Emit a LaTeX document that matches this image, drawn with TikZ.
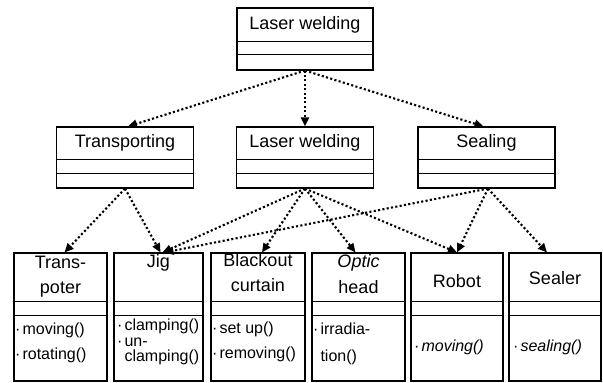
\documentclass[tikz,border=0pt]{standalone}
\usepackage{fontspec}
\setmainfont{Liberation Sans}
\usetikzlibrary{arrows.meta}
\tikzset{
  cls box/.style={draw,line width=1.1pt,inner sep=0pt,fill=white},
  cls line/.style={line width=1.1pt},
  cls title/.style={inner sep=0pt,anchor=base,font=\fontsize{18}{22}\selectfont},
  cls op/.style={inner sep=0pt,anchor=base west,font=\fontsize{16}{19}\selectfont},
  dep/.style={line width=2.1pt,dash pattern=on 2.1pt off 2.3pt,-{Triangle[length=9pt,width=8pt]}}
}
\newcommand{\opdot}{·\kern2pt}

\begin{document}
\begin{tikzpicture}[x=1pt,y=-1pt]
  \useasboundingbox (0,0) rectangle (603,383);
  % upper two levels
  \node[cls box,minimum width=136pt,minimum height=62pt] (lw) at (305,39) {};
  \foreach \n/\x in {trsp/125,lwm/305,seal/486.5}
    \node[cls box,minimum width=137pt,minimum height=61pt] (\n) at (\x,157.5) {};
  \foreach \n/\a/\b in {lw/34/47,trsp/33/47,lwm/33/47,seal/33/47}{
    \draw[cls line] ([yshift=-\a pt]\n.north west) -- ([yshift=-\a pt]\n.north east);
    \draw[cls line] ([yshift=-\b pt]\n.north west) -- ([yshift=-\b pt]\n.north east);
  }
  \node[cls title] (lw-a) at (305,29) {Laser welding};
  \node[cls title] (trsp-a) at (125,147) {Transporting};
  \node[cls title] (lwm-a) at (305,147) {Laser welding};
  \node[cls title] (seal-a) at (486.5,147) {Sealing};

  % resources
  \foreach \n/\l/\r in {tp/14/107,jig/114/203,bc/211/305,oh/312/405,rb/411/503,sl/509/601}{
    \node[cls box,minimum width={(\r-\l)*1pt},minimum height=128pt] (\n) at ({(\l+\r)/2},317) {};
    \draw[cls line] ([yshift=-49pt]\n.north west) -- ([yshift=-49pt]\n.north east);
    \draw[cls line] ([yshift=-63pt]\n.north west) -- ([yshift=-63pt]\n.north east);
  }
  \node[cls title] (tp-a) at (60.5,268) {Trans-};
  \node[cls title] (tp-b) at (60.5,293) {poter};
  \node[cls title] (jig-a) at (158.5,267) {Jig};
  \node[cls title] (bc-a) at (258,266) {Blackout};
  \node[cls title] (bc-b) at (258,291) {curtain};
  \node[cls title] (oh-a) at (358.5,267) {\itshape Optic};
  \node[cls title] (oh-b) at (358.5,293) {head};
  \node[cls title] (rb-a) at (457,287) {Robot};
  \node[cls title] (sl-a) at (555,284) {Sealer};

  % operations
  \foreach \x/\y/\t [count=\i] in {15/334/{\opdot moving()},15/359/{\opdot rotating()},
      117/330/{\opdot clamping()},117/346/{\opdot un-},117/361/{\phantom{\opdot}clamping()},
      212/333/{\opdot set up()},212/358/{\opdot removing()},
      313/334/{\opdot irradia-},313/361/{\phantom{\opdot}tion()},
      414/351/{\opdot\itshape moving()},513/351/{\opdot\itshape sealing()}}
    \node[cls op] (op\i) at (\x,\y) {\t};

  % dependencies
  \draw[dep] (lw.south) -- ([xshift=3pt]trsp.north);
  \draw[dep] (lw.south) -- (lwm.north);
  \draw[dep] (lw.south) -- ([xshift=-3pt]seal.north);
  \draw[dep] (trsp.south) -- ([xshift=4pt]tp.north);
  \draw[dep] (trsp.south) -- ([xshift=2pt]jig.north);
  \draw[dep] (lwm.south) -- ([xshift=4pt]jig.north);
  \draw[dep] (lwm.south) -- ([xshift=4pt]bc.north);
  \draw[dep] (lwm.south) -- ([xshift=-3pt]oh.north);
  \draw[dep] (lwm.south) -- (rb.north);
  \draw[dep] ([xshift=1.5pt]seal.south) -- ([xshift=6pt]jig.north);
  \draw[dep] ([xshift=1.5pt]seal.south) -- (rb.north);
  \draw[dep] ([xshift=1.5pt]seal.south) -- ([xshift=-8pt]sl.north);
\end{tikzpicture}
\end{document}
